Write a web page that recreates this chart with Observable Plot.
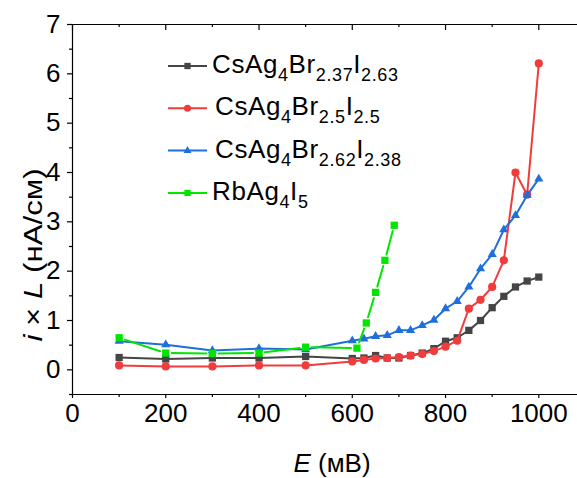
<!DOCTYPE html>
<html>
<head>
<meta charset="utf-8">
<script src="https://cdn.jsdelivr.net/npm/d3@7"></script>
<script src="https://cdn.jsdelivr.net/npm/@observablehq/plot@0.6"></script>
<style>
  html, body { margin: 0; padding: 0; background: #fff; }
  #chart { width: 577px; height: 478px; overflow: hidden; }
  svg text { font-family: "Liberation Sans", Arial, sans-serif; }
</style>
</head>
<body>
<div id="chart"></div>
<script>
// Potential steps (mV) shared by the three CsAg4BrxIy samples
const energies = [100, 200, 300, 400, 500, 600, 625, 650, 675, 700, 725, 750, 775,
                  800, 825, 850, 875, 900, 925, 950, 975, 1000];
// i × L (nA/cm) for each sample
const csBr237 = [0.25, 0.22, 0.24, 0.24, 0.27, 0.23, 0.24, 0.29, 0.24, 0.24, 0.29, 0.34,
                 0.43, 0.58, 0.65, 0.80, 1.00, 1.26, 1.49, 1.68, 1.80, 1.88];
const csBr25  = [0.09, 0.07, 0.07, 0.09, 0.09, 0.17, 0.20, 0.23, 0.24, 0.26, 0.29, 0.32,
                 0.38, 0.47, 0.59, 1.24, 1.42, 1.68, 2.22, 4.00, 3.55, 6.21];
const csBr262 = [0.58, 0.51, 0.39, 0.43, 0.41, 0.59, 0.63, 0.68, 0.70, 0.80, 0.80, 0.90,
                 1.01, 1.24, 1.39, 1.68, 2.05, 2.34, 2.84, 3.13, 3.54, 3.87];
// RbAg4I5 reference sample
const rbEnergies = [100, 200, 300, 400, 500, 610, 630, 650, 670, 690];
const rbAg4I5    = [0.65, 0.34, 0.33, 0.34, 0.46, 0.44, 0.95, 1.57, 2.22, 2.93];

const xMajorTicks = [0, 200, 400, 600, 800, 1000];
const xMinorTicks = [100, 300, 500, 700, 900];
const yMajorTicks = [0, 1, 2, 3, 4, 5, 6, 7];
const yMinorTicks = [-0.5, 0.5, 1.5, 2.5, 3.5, 4.5, 5.5, 6.5];

const seriesNames = ["CsAg_4Br_{2.37}I_{2.63}", "CsAg_4Br_{2.5}I_{2.5}",
                     "CsAg_4Br_{2.62}I_{2.38}", "RbAg_4I_5"];
const seriesColors = ["#454545", "#f03c3c", "#1e6edc", "#00e600"];
const seriesSymbols = ["square", "circle", "triangle", "square"];
const seriesRadii = [4.1, 4.1, 3.4, 4.1];

const rows = (xs, ys) => xs.map((E, i) => ({E, v: ys[i]}));
const segments = (xs, ys) => xs.slice(1).map((E, i) => ({x1: xs[i], y1: ys[i], x2: E, y2: ys[i + 1]}));

const seriesData = [
  rows(energies, csBr237),
  rows(energies, csBr25),
  rows(energies, csBr262),
  rows(rbEnergies, rbAg4I5)
];

const dataMarks = [];
seriesData.forEach((d, i) => {
  if (i === 3) {
    // line stops short of each symbol
    dataMarks.push(Plot.arrow(segments(rbEnergies, rbAg4I5), {
      x1: "x1", y1: "y1", x2: "x2", y2: "y2",
      stroke: seriesColors[i], strokeWidth: 2, headLength: 0,
      insetStart: 6, insetEnd: 6
    }));
  } else {
    dataMarks.push(Plot.line(d, {x: "E", y: "v", stroke: seriesColors[i], strokeWidth: 2}));
  }
  dataMarks.push(Plot.dot(d, {x: "E", y: "v", symbol: seriesSymbols[i], r: seriesRadii[i],
                              fill: seriesColors[i], stroke: "none"}));
});

const axisStyle = {stroke: "#000", strokeWidth: 1.2};

const chart = Plot.plot({
  width: 577,
  height: 478,
  marginTop: 24,
  marginBottom: 84,
  marginLeft: 72,
  marginRight: 0,
  style: {fontFamily: "Liberation Sans, Arial, sans-serif", color: "#000", background: "#fff"},
  x: {domain: [0, 1083], label: null},
  y: {domain: [-0.5, 7], label: null},
  marks: [
    // frame lines: left, bottom, top
    Plot.ruleX([0], axisStyle),
    Plot.ruleY([-0.5], axisStyle),
    Plot.ruleY([7], axisStyle),
    // bottom axis
    Plot.axisX(xMajorTicks, {anchor: "bottom", tickSize: 4, tickPadding: 5, fontSize: 26,
                             label: null, strokeWidth: 1.2, tickFormat: d3.format("d")}),
    Plot.axisX(xMinorTicks, {anchor: "bottom", tickSize: 3, label: null, strokeWidth: 1.2,
                             tickFormat: () => ""}),
    // top ticks pointing inward
    Plot.axisX(xMajorTicks, {anchor: "bottom", frameAnchor: "top", tickSize: 6, label: null,
                             strokeWidth: 1.2, tickFormat: () => ""}),
    Plot.axisX(xMinorTicks, {anchor: "bottom", frameAnchor: "top", tickSize: 3, label: null,
                             strokeWidth: 1.2, tickFormat: () => ""}),
    // left axis
    Plot.axisY(yMajorTicks, {anchor: "left", tickSize: 5, tickPadding: 7, fontSize: 26,
                             label: null, strokeWidth: 1.2, tickFormat: d3.format("d")}),
    Plot.axisY(yMinorTicks, {anchor: "left", tickSize: 3, label: null, strokeWidth: 1.2,
                             tickFormat: () => ""}),
    ...dataMarks
  ]
});

document.getElementById("chart").appendChild(chart);

const svg = d3.select(chart);

// Write "A_4B_{2.5}" style names as text with subscripts
function addRichText(sel, spec, size, subSize, subShift) {
  const parts = [];
  const re = /_(\{([^}]*)\}|(.))/g;
  let last = 0, m;
  while ((m = re.exec(spec))) {
    if (m.index > last) parts.push({t: spec.slice(last, m.index), sub: false});
    parts.push({t: m[2] !== undefined ? m[2] : m[3], sub: true});
    last = re.lastIndex;
  }
  if (last < spec.length) parts.push({t: spec.slice(last), sub: false});
  let shifted = false;
  for (const p of parts) {
    const ts = sel.append("tspan").text(p.t).attr("font-size", p.sub ? subSize : size);
    if (p.sub && !shifted) { ts.attr("dy", subShift); shifted = true; }
    else if (!p.sub && shifted) { ts.attr("dy", -subShift); shifted = false; }
  }
}

// Legend
const legend = svg.append("g").attr("transform", "translate(168,66)");
seriesNames.forEach((name, i) => {
  const g = legend.append("g").attr("transform", `translate(0,${i * 42.3})`);
  g.append("line").attr("x1", 0).attr("x2", 39).attr("y1", 0).attr("y2", 0)
    .attr("stroke", seriesColors[i]).attr("stroke-width", 2);
  const sym = {square: d3.symbolSquare, circle: d3.symbolCircle, triangle: d3.symbolTriangle}[seriesSymbols[i]];
  g.append("path").attr("transform", "translate(19.5,0)")
    .attr("d", d3.symbol(sym, Math.PI * seriesRadii[i] ** 2 * 0.75)())
    .attr("fill", seriesColors[i]);
  const t = g.append("text").attr("x", i === 0 || i === 3 ? 44 : 47).attr("y", 7)
    .attr("text-anchor", "start").attr("fill", "#000").attr("letter-spacing", 0.6);
  addRichText(t, name, 26, 18, 8);
});

// Axis titles
const xTitle = svg.append("text").attr("x", 332).attr("y", 472)
  .attr("text-anchor", "middle").attr("font-size", 26).attr("fill", "#000");
xTitle.append("tspan").attr("font-style", "italic").text("E");
xTitle.append("tspan").text(" (мВ)");

const yTitle = svg.append("text")
  .attr("transform", "translate(42,255) rotate(-90) scale(1.25,1)")
  .attr("text-anchor", "middle").attr("font-size", 25).attr("fill", "#000");
yTitle.append("tspan").attr("font-style", "italic").text("i");
yTitle.append("tspan").text(" × ");
yTitle.append("tspan").attr("font-style", "italic").text("L");
yTitle.append("tspan").text(" (нА/см)");
</script>
</body>
</html>
